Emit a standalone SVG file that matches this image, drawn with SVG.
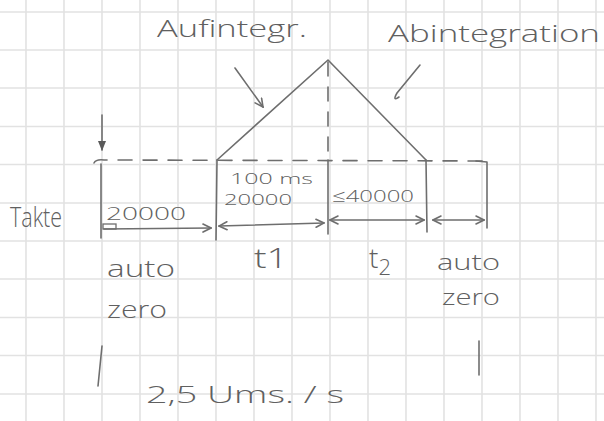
<svg xmlns="http://www.w3.org/2000/svg" width="604" height="421" viewBox="0 0 604 421">
<style>
.grid line{stroke:#e2e2e2;stroke-width:1.6}
.pen{stroke:#6e6e6e;stroke-width:1.6;fill:none;stroke-linecap:round;stroke-linejoin:round}
.dash{stroke-dasharray:14 11}
.t{font-family:"Open Sans","Liberation Sans",sans-serif;fill:#606060;font-weight:300}
</style>
<defs>
<marker id="open" viewBox="0 0 10 10" refX="9" refY="5" markerWidth="10" markerHeight="10" markerUnits="userSpaceOnUse" orient="auto-start-reverse">
<path d="M1,1 L9,5 L1,9" fill="none" stroke="#6e6e6e" stroke-width="1.6" stroke-linecap="round"/>
</marker>
<marker id="solid" viewBox="0 0 10 10" refX="9" refY="5" markerWidth="10" markerHeight="10" markerUnits="userSpaceOnUse" orient="auto">
<path d="M0,1 L10,5 L0,9 Z" fill="#5a5a5a"/>
</marker>
</defs>
<rect width="604" height="421" fill="#ffffff"/>
<g class="grid">
<line x1="26" y1="0" x2="26" y2="421"/><line x1="64" y1="0" x2="64" y2="421"/><line x1="102" y1="0" x2="102" y2="421"/><line x1="140" y1="0" x2="140" y2="421"/><line x1="178" y1="0" x2="178" y2="421"/><line x1="216" y1="0" x2="216" y2="421"/><line x1="254" y1="0" x2="254" y2="421"/><line x1="292" y1="0" x2="292" y2="421"/><line x1="330" y1="0" x2="330" y2="421"/><line x1="368" y1="0" x2="368" y2="421"/><line x1="406" y1="0" x2="406" y2="421"/><line x1="444" y1="0" x2="444" y2="421"/><line x1="482" y1="0" x2="482" y2="421"/><line x1="520" y1="0" x2="520" y2="421"/><line x1="558" y1="0" x2="558" y2="421"/><line x1="596" y1="0" x2="596" y2="421"/>
<line x1="0" y1="12" x2="604" y2="12"/><line x1="0" y1="50" x2="604" y2="50"/><line x1="0" y1="88" x2="604" y2="88"/><line x1="0" y1="126.5" x2="604" y2="126.5"/><line x1="0" y1="164.5" x2="604" y2="164.5"/><line x1="0" y1="203" x2="604" y2="203"/><line x1="0" y1="241" x2="604" y2="241"/><line x1="0" y1="279" x2="604" y2="279"/><line x1="0" y1="317.5" x2="604" y2="317.5"/><line x1="0" y1="355.5" x2="604" y2="355.5"/><line x1="0" y1="394" x2="604" y2="394"/>
</g>
<g id="waveform">
<path class="pen" d="M217,160 L328,60 L426,160"/>
<path class="pen dash" d="M328,62 L328,160"/>
<path class="pen dash" d="M94,163 Q96,159 104,160 L486,161"/>
<path class="pen" d="M476,161 L487,162 L487,228"/>
<path class="pen" d="M101,164 L101,238"/>
<path class="pen" d="M217,160 L216,240"/>
<path class="pen" d="M328,160 L328,234"/>
<path class="pen" d="M426,160 L427,232"/>
<rect x="103" y="224" width="13" height="5" fill="none" stroke="#6e6e6e" stroke-width="1.3"/>
</g>
<g id="markers">
<path class="pen" d="M102,346 L98,386"/>
<path class="pen" d="M479,341 L479,375"/>
</g>
<g id="connectors">
<line class="pen" x1="102" y1="115" x2="102" y2="150" marker-end="url(#solid)"/>
<line class="pen" x1="235" y1="68" x2="263" y2="107" marker-end="url(#open)"/>
<path class="pen" d="M420,65 L397,93 Q392,102 399,97"/>
<line class="pen" x1="104" y1="229" x2="211" y2="228" marker-end="url(#open)"/>
<line class="pen" x1="219" y1="226" x2="324" y2="223" marker-start="url(#open)" marker-end="url(#open)"/>
<line class="pen" x1="330" y1="220" x2="424" y2="220" marker-start="url(#open)" marker-end="url(#open)"/>
<line class="pen" x1="433" y1="220" x2="484" y2="220" marker-start="url(#open)" marker-end="url(#open)"/>
</g>
<g id="labels">
<text class="t" x="157" y="37" font-size="24" textLength="150" lengthAdjust="spacingAndGlyphs">Aufintegr.</text>
<text class="t" x="388" y="42" font-size="24" textLength="212" lengthAdjust="spacingAndGlyphs">Abintegration</text>
<text class="t" x="10" y="227" font-size="27" textLength="52" lengthAdjust="spacingAndGlyphs">Takte</text>
<text class="t" x="106" y="220" font-size="18" textLength="80" lengthAdjust="spacingAndGlyphs">20000</text>
<text class="t" x="230" y="184" font-size="14" textLength="83" lengthAdjust="spacingAndGlyphs">100 ms</text>
<text class="t" x="224" y="205" font-size="15" textLength="68" lengthAdjust="spacingAndGlyphs">20000</text>
<text class="t" x="332" y="202" font-size="17" textLength="82" lengthAdjust="spacingAndGlyphs">≤40000</text>
<text class="t" x="107" y="277" font-size="24" textLength="68" lengthAdjust="spacingAndGlyphs">auto</text>
<text class="t" x="107" y="318" font-size="24" textLength="60" lengthAdjust="spacingAndGlyphs">zero</text>
<text class="t" x="254" y="268" font-size="28" textLength="34" lengthAdjust="spacingAndGlyphs">t1</text>
<text class="t" x="369" y="268" font-size="28">t<tspan font-size="22" dy="7">2</tspan></text>
<text class="t" x="437" y="270" font-size="22" textLength="63" lengthAdjust="spacingAndGlyphs">auto</text>
<text class="t" x="442" y="305" font-size="22" textLength="58" lengthAdjust="spacingAndGlyphs">zero</text>
<text class="t" x="146" y="403" font-size="24" textLength="198" lengthAdjust="spacingAndGlyphs">2,5 Ums. / s</text>
</g>
</svg>
